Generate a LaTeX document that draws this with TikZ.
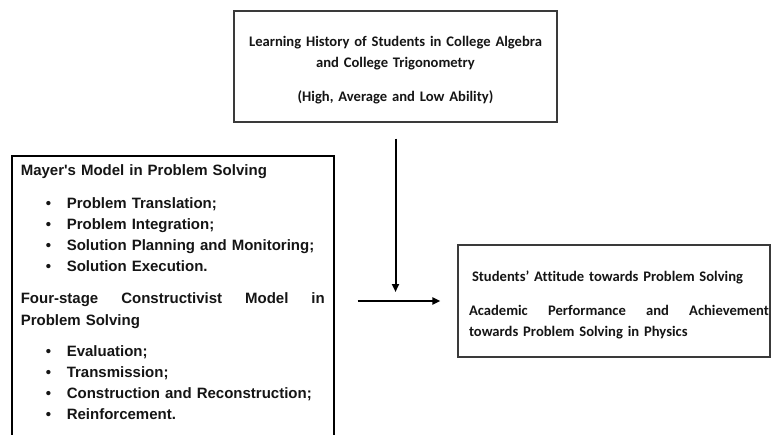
\documentclass[tikz,border=0pt]{standalone}
\usepackage{fontspec}
\setmainfont{Carlito}[Ligatures={TeX,NoCommon}]
\newfontfamily\arialfont{Liberation Sans}
\usetikzlibrary{arrows.meta,positioning}
\definecolor{frameGray}{HTML}{3A3A3A}
\definecolor{inkDark}{HTML}{151515}
% bullet line of the model lists
\newcommand{\bitem}[1]{\makebox[46pt][l]{\hspace{25pt}\textbullet}#1}
\tikzset{
    boxBase/.style={
        rectangle,
        draw=frameGray,
        line width=1.2pt,
        text=inkDark,
        font=\bfseries\fontsize{14.6}{21}\selectfont
    },
    histbox/.style={boxBase, text width=323pt, minimum height=111pt, align=center, inner sep=0pt, text height=17pt},
    modelbox/.style={boxBase, draw=black, line width=1.6pt, text width=304pt, align=left,
        inner xsep=9pt, inner ysep=9.3pt, text depth=272pt,
        font=\arialfont\bfseries\fontsize{15}{21.2}\selectfont},
    outbox/.style={boxBase, text width=300pt, inner xsep=6pt, minimum height=112pt, align=left, text height=18pt},
    arr/.style={-{Triangle[length=8pt,width=7pt]}, line width=2pt}
}
\begin{document}
\begin{tikzpicture}[x=1pt, y=-1pt]
\useasboundingbox (0,0) rectangle (771,434);
\fill[white] (0,0) rectangle (771,434);
\clip (0,0) rectangle (771,434);

\node[histbox] (hist) at (395.5,66.5) {Learning History of Students in College Algebra\\and College Trigonometry\\[13pt](High, Average and Low Ability)};

\node[modelbox, anchor=north west] (models) at (11,155) {Mayer\textquotesingle s Model in Problem Solving\\[11pt]
\bitem{Problem Translation;}\\
\bitem{Problem Integration;}\\
\bitem{Solution Planning and Monitoring;}\\
\bitem{Solution Execution.}\\[11pt]
Four-stage\hfill Constructivist\hfill Model\hfill in\\
Problem Solving\\[10pt]
\bitem{Evaluation;}\\
\bitem{Transmission;}\\
\bitem{Construction and Reconstruction;}\\
\bitem{Reinforcement.}};

\node[outbox] (outcome) at (614,301) {\hspace*{8pt}Students’ Attitude towards Problem Solving\\[13pt]
\hspace*{5pt}Academic\hfill Performance\hfill and\hfill Achievement\kern-5pt\\
\hspace*{5pt}towards Problem Solving in Physics};

\coordinate (join) at (395.5,292);
\draw[arr, shorten <=16pt] (hist.south) -- (join);
\draw[arr, shorten <=23pt, shorten >=17pt] (models.east |- outcome.west) -- (outcome.west);
\end{tikzpicture}
\end{document}
